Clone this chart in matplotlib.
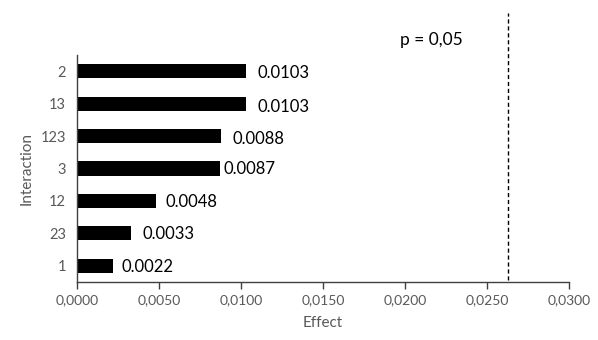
import matplotlib
matplotlib.use("Agg")
import matplotlib.pyplot as plt
import matplotlib.transforms as mtransforms
from matplotlib.ticker import FuncFormatter

categories = ["1", "23", "12", "3", "123", "13", "2"]
effects = [0.0022, 0.0033, 0.0048, 0.0087, 0.0088, 0.0103, 0.0103]
value_labels = ["0.0022", "0.0033", "0.0048", "0.0087", "0.0088", "0.0103", "0.0103"]
p_threshold = 0.0263
p_label = "p = 0,05"
x_ticks = [0.0, 0.005, 0.010, 0.015, 0.020, 0.025, 0.030]

# label nudges in pixels (style only)
label_dx = [8, 11, 10, 4, 11, 12, 12]
label_dy = [-1, -1, -1, 0, -3, -3, -2]

plt.rcParams['font.family'] = ['Lato', 'DejaVu Sans']

fig = plt.figure(figsize=(5.98, 3.40), dpi=100)
W, H = 598, 340
left, right, top, bottom = 77, 569, 55, 282
ax = fig.add_axes([left / W, 1 - bottom / H, (right - left) / W, (bottom - top) / H])

y = list(range(len(categories)))
ax.barh(y, effects, height=0.44, color="black")

for yi, v, lab, dx, dy in zip(y, effects, value_labels, label_dx, label_dy):
    ax.annotate(lab, (v, yi), xytext=(dx, dy), textcoords="offset pixels",
                va="center", ha="left", fontsize=12, color="black")

ax.set_xlim(0, 0.030)
ax.set_ylim(-0.5, 6.5)
ax.set_xticks(x_ticks)
ax.xaxis.set_major_formatter(FuncFormatter(lambda v, p: f"{v:.4f}".replace(".", ",")))
ax.set_yticks(y)
ax.set_yticklabels(categories)

for s in ["top", "right"]:
    ax.spines[s].set_visible(False)
for s in ["left", "bottom"]:
    ax.spines[s].set_color("#404040")
    ax.spines[s].set_linewidth(1.0)

ax.tick_params(axis="x", direction="out", length=5, width=1, color="#404040",
               labelsize=10, labelcolor="#595959", pad=4)
ax.tick_params(axis="y", length=0, labelsize=10.5, labelcolor="#595959", pad=8)

ax.set_xlabel("Effect", fontsize=11, color="#595959", labelpad=7)
ax.set_ylabel("Interaction", fontsize=11, color="#595959", labelpad=5)

trans = mtransforms.blended_transform_factory(ax.transData, ax.transAxes)
ax.plot([p_threshold, p_threshold], [0.01, 1.185], transform=trans, color="black",
        linestyle=(0, (3, 2)), linewidth=1.0, clip_on=False)
ax.text(p_threshold - 0.0047, 1.066, p_label, transform=trans, fontsize=12.5,
        color="black", ha="center", va="center")

fig.savefig("out.png", dpi=100)
